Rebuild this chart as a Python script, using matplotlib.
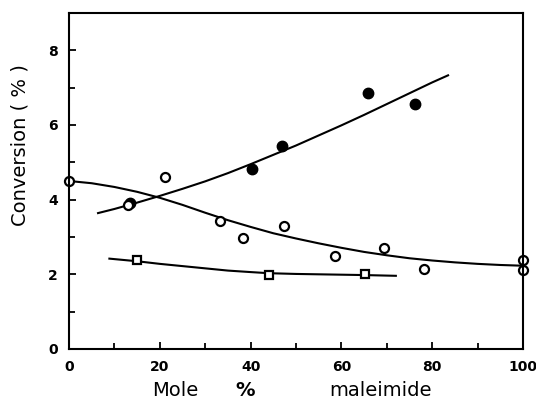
import matplotlib.pyplot as plt
from matplotlib.ticker import MultipleLocator

# filled circles
filled_x = [13.4, 40.3, 46.9, 65.9, 76.2]
filled_y = [3.90, 4.81, 5.45, 6.87, 6.55]

# open circles
open_x = [0, 13.0, 21.1, 33.3, 38.4, 47.4, 58.6, 69.4, 78.2, 100, 100]
open_y = [4.49, 3.86, 4.60, 3.43, 2.97, 3.29, 2.49, 2.70, 2.14, 2.38, 2.11]

# squares
sq_x = [14.9, 44.0, 65.2]
sq_y = [2.38, 1.98, 2.00]

# hand-drawn curves
cf_x = [6.4, 10, 15, 20, 25, 30, 35, 40, 45, 50, 55, 60, 65, 70, 75, 80, 83.5]
cf_y = [3.64, 3.75, 3.92, 4.10, 4.29, 4.49, 4.71, 4.95, 5.20, 5.45, 5.72,
        5.99, 6.27, 6.56, 6.85, 7.14, 7.33]
co_x = [0, 5, 10, 15, 20, 25, 30, 35, 40, 45, 50, 55, 60, 65, 70, 75, 80,
        85, 90, 95, 100]
co_y = [4.50, 4.44, 4.34, 4.21, 4.05, 3.86, 3.65, 3.45, 3.27, 3.10, 2.96,
        2.83, 2.71, 2.60, 2.51, 2.43, 2.37, 2.32, 2.28, 2.25, 2.23]
cs_x = [8.9, 15, 20, 25, 30, 35, 40, 44, 50, 55, 60, 65, 72]
cs_y = [2.42, 2.35, 2.28, 2.22, 2.16, 2.10, 2.06, 2.03, 2.01, 2.00, 1.99,
        1.98, 1.96]

fig = plt.figure(figsize=(5.36, 4.11), dpi=100)
ax = fig.add_axes([0.1287, 0.1509, 0.847, 0.8175])

ax.plot(cf_x, cf_y, '-k', lw=1.5)
ax.plot(co_x, co_y, '-k', lw=1.5)
ax.plot(cs_x, cs_y, '-k', lw=1.5)

ax.plot(filled_x, filled_y, 'o', color='k', ms=7.5, clip_on=False)
ax.plot(open_x, open_y, 'o', mfc='white', mec='k', mew=1.6, ms=6.5, clip_on=False)
ax.plot(sq_x, sq_y, 's', mfc='white', mec='k', mew=1.6, ms=6, clip_on=False)

ax.set_xlim(0, 100)
ax.set_ylim(0, 9)
ax.xaxis.set_major_locator(MultipleLocator(20))
ax.xaxis.set_minor_locator(MultipleLocator(10))
ax.yaxis.set_major_locator(MultipleLocator(2))
ax.yaxis.set_minor_locator(MultipleLocator(1))
ax.tick_params(which='both', direction='in', width=1.3)
ax.tick_params(which='major', length=5, labelsize=10, pad=8)
ax.tick_params(which='minor', length=4)
for lab in ax.get_xticklabels() + ax.get_yticklabels():
    lab.set_fontweight('bold')
for s in ax.spines.values():
    s.set_linewidth(1.5)

fig.text(0.037, 0.647, 'Conversion ( % )', rotation=90, ha='center', va='center',
         fontsize=14)
fig.text(0.327, 0.05, 'Mole', ha='center', va='center', fontsize=14)
fig.text(0.457, 0.05, '%', ha='center', va='center', fontsize=14, fontweight='bold')
fig.text(0.71, 0.05, 'maleimide', ha='center', va='center', fontsize=14)

fig.savefig('out.png', dpi=100)
